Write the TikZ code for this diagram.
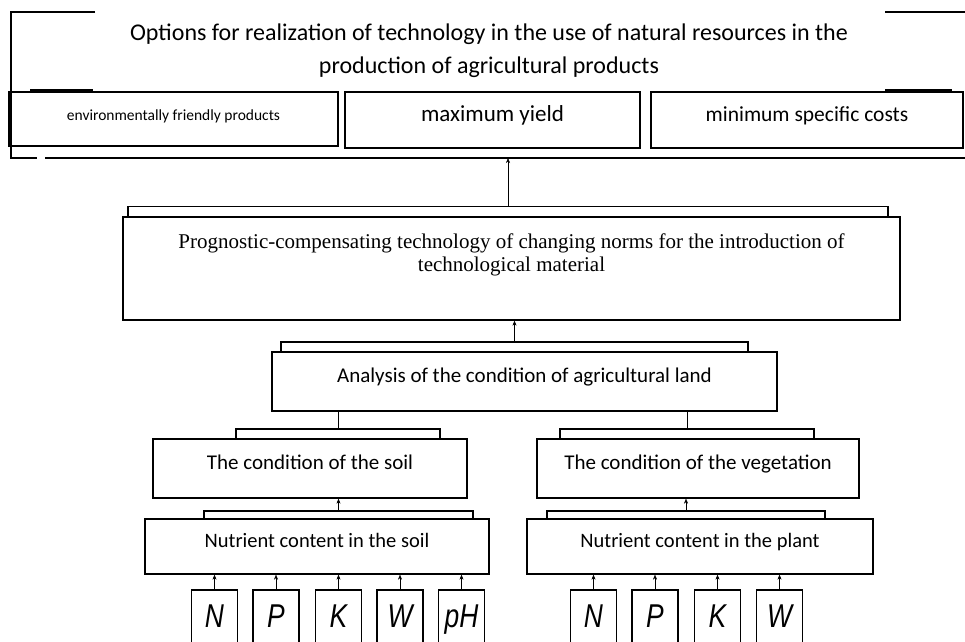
\documentclass[tikz,border=0pt]{standalone}
\usepackage{fontspec}
\setmainfont{Carlito}
\newfontfamily\timesfont{Liberation Serif}
\newfontfamily\gostfont[FakeStretch=0.8]{Liberation Sans}
\usetikzlibrary{positioning,arrows.meta}

\tikzset{
    box/.style={draw, line width=1.3pt, inner sep=0pt, align=center, text height=15pt, text depth=13pt},
    tab/.style={draw, line width=1.3pt, inner sep=0pt, minimum height=10pt},
    letterbox/.style={draw, line width=1.2pt, inner sep=0pt, minimum width=46pt, minimum height=60pt,
        text height=24pt, text depth=10pt,
        font=\gostfont\itshape\fontsize{33}{33}\selectfont},
    frameline/.style={line width=1.3pt},
    uparrow/.style={-{Stealth[length=5pt,width=4pt]}, thin}
}

\begin{document}
\begin{tikzpicture}[x=1pt, y=-1pt]
    \useasboundingbox (0,0) rectangle (965,641);
    \clip (0,0) rectangle (965,641);

    % Frame round the options
    \draw[frameline] (95,12) -- (11,12) -- (11,158) -- (37,158);
    \draw[frameline] (45,158) -- (965,158);
    \draw[frameline] (885,12) -- (965,12);
    \draw[line width=2.5pt] (30,90) -- (93,90);
    \draw[line width=2.5pt] (885,90) -- (952,90);
    \node[align=center, font=\fontsize{24}{33}\selectfont] (title) at (489,51)
        {Options for realization of technology in the use of natural resources in the\\
         production of agricultural products};
    \coordinate (framebot) at (510,158);

    % Options
    \node[box, minimum width=329pt, minimum height=54pt, font=\fontsize{15.5}{18}\selectfont] (eco) at (173.5,119) {environmentally friendly products};
    \node[box, minimum width=295pt, minimum height=56pt, font=\fontsize{23}{26}\selectfont] (yield) at (492.5,120) {maximum yield};
    \node[box, minimum width=312pt, minimum height=56pt, font=\fontsize{21.5}{25}\selectfont] (costs) at (807,120) {minimum specific costs};

    % Technology
    \node[tab, minimum width=760pt] (progtab) at (508,211.5) {};
    \node[box, minimum width=777pt, minimum height=103pt, fill=white] (prog) at (511.5,268.5) {};
    \node[align=center, font=\timesfont\fontsize{21}{23}\selectfont] (progtext) at (511.5,255)
        {Prognostic-compensating technology of changing norms for the introduction of\\
         technological material};

    % Analysis
    \node[tab, minimum width=467pt] (anatab) at (514.5,347) {};
    \node[box, minimum width=505pt, minimum height=59pt, fill=white, font=\fontsize{21}{24}\selectfont] (analysis) at (524.5,381.5) {Analysis of the condition of agricultural land};

    % Condition
    \node[tab, minimum width=204pt] (soiltab) at (338,434) {};
    \node[box, minimum width=314pt, minimum height=59pt, fill=white, font=\fontsize{21}{24}\selectfont] (soil) at (310,468.5) {The condition of the soil};
    \node[tab, minimum width=254pt] (vegtab) at (687,434) {};
    \node[box, minimum width=322pt, minimum height=59pt, fill=white, font=\fontsize{21}{24}\selectfont] (veg) at (698,468.5) {The condition of the vegetation};

    % Nutrients
    \node[tab, minimum width=269pt, minimum height=8pt] (nsoiltab) at (338.5,515) {};
    \node[box, minimum width=344pt, minimum height=55pt, fill=white, font=\fontsize{20.5}{24}\selectfont] (nsoil) at (317,546.5) {Nutrient content in the soil};
    \node[tab, minimum width=278pt, minimum height=8pt] (nplanttab) at (686,515) {};
    \node[box, minimum width=346pt, minimum height=55pt, fill=white, font=\fontsize{20.5}{24}\selectfont] (nplant) at (700,546.5) {Nutrient content in the plant};

    % Soil elements
    \node[letterbox] (sN) at (214.5,620) {N};
    \node[letterbox] (sP) at (276,620) {P};
    \node[letterbox] (sK) at (338.5,620) {K};
    \node[letterbox] (sW) at (400,620) {W};
    \node[letterbox] (spH) at (461.5,620) {pH};

    % Plant elements
    \node[letterbox] (pN) at (593.5,620) {N};
    \node[letterbox] (pP) at (655,620) {P};
    \node[letterbox] (pK) at (717.5,620) {K};
    \node[letterbox] (pW) at (779.5,620) {W};

    % Connections
    \draw[uparrow] (progtab.north) -- (progtab.north |- framebot);
    \draw[uparrow] (anatab.north) -- (anatab.north |- prog.south);
    \draw[thin] (soiltab.north) -- (soiltab.north |- analysis.south);
    \draw[thin] (vegtab.north) -- (vegtab.north |- analysis.south);
    \draw[uparrow] (nsoiltab.north) -- (nsoiltab.north |- soil.south);
    \draw[uparrow] (nplanttab.north) -- (nplanttab.north |- veg.south);

    \draw[uparrow] (sN.north) -- (sN.north |- nsoil.south);
    \draw[uparrow] (sP.north) -- (sP.north |- nsoil.south);
    \draw[uparrow] (sK.north) -- (sK.north |- nsoil.south);
    \draw[uparrow] (sW.north) -- (sW.north |- nsoil.south);
    \draw[uparrow] (spH.north) -- (spH.north |- nsoil.south);

    \draw[uparrow] (pN.north) -- (pN.north |- nplant.south);
    \draw[uparrow] (pP.north) -- (pP.north |- nplant.south);
    \draw[uparrow] (pK.north) -- (pK.north |- nplant.south);
    \draw[uparrow] (pW.north) -- (pW.north |- nplant.south);
\end{tikzpicture}
\end{document}
